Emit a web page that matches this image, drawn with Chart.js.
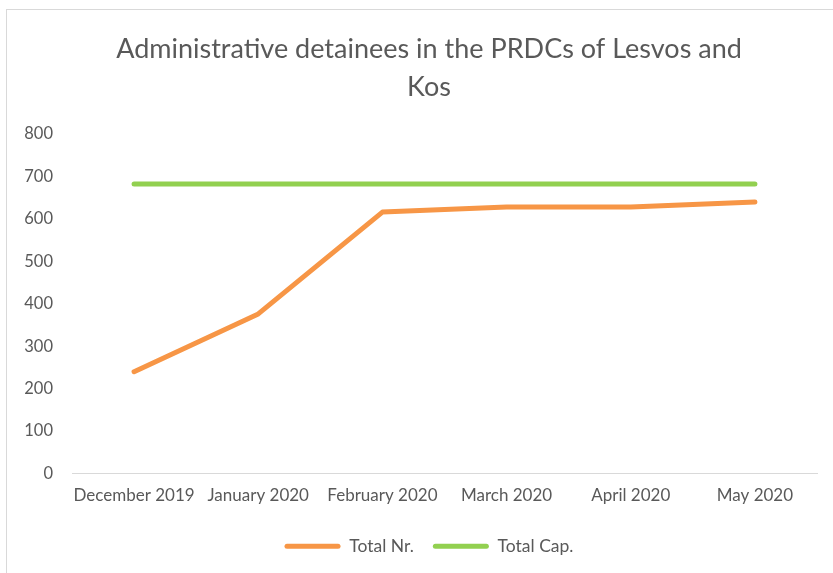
<!DOCTYPE html>
<html>
<head>
<meta charset="utf-8">
<script src="https://cdn.jsdelivr.net/npm/chart.js@4"></script>
<style>
  html, body { margin: 0; padding: 0; background: #fff; overflow: hidden; }
  #frame { position: absolute; left: 6px; top: 9px; width: 900px; height: 600px; border: 1px solid #d9d9d9; }
  #wrap { position: absolute; left: 0; top: 0; width: 858px; height: 573px; }
</style>
</head>
<body>
<div id="frame"></div>
<div id="wrap"><canvas id="chart" width="858" height="573"></canvas></div>
<script>
// data
const months = ["December 2019", "January 2020", "February 2020", "March 2020", "April 2020", "May 2020"];
const totalNr = [240, 376, 616, 628, 628, 640];
const totalCap = [682, 682, 682, 682, 682, 682];
const yTicks = [0, 100, 200, 300, 400, 500, 600, 700, 800];

const grey = "#595959";
const orange = "#F79646";
const green = "#92D050";

const ctx = document.getElementById("chart").getContext("2d");
new Chart(ctx, {
  type: "line",
  data: {
    labels: months,
    datasets: [
      {
        label: "Total Nr.",
        data: totalNr,
        borderColor: orange,
        backgroundColor: orange,
        borderWidth: 5,
        borderCapStyle: "round",
        borderJoinStyle: "round",
        pointRadius: 0,
        tension: 0,
      },
      {
        label: "Total Cap.",
        data: totalCap,
        borderColor: green,
        backgroundColor: green,
        borderWidth: 5,
        borderCapStyle: "round",
        borderJoinStyle: "round",
        pointRadius: 0,
        tension: 0,
      },
    ],
  },
  options: {
    responsive: false,
    animation: false,
    layout: { padding: { left: 0, right: 0, top: 0, bottom: 8 } },
    plugins: {
      title: {
        display: true,
        text: ["Administrative detainees in the PRDCs of Lesvos and", "Kos"],
        color: grey,
        font: { family: "Lato", size: 27, weight: "normal", lineHeight: 1.407 },
        padding: { top: 30, bottom: 28 },
      },
      legend: {
        position: "bottom",
        labels: {
          color: grey,
          font: { family: "Lato", size: 17.5 },
          boxWidth: 56,
          boxHeight: 5,
          useBorderRadius: true,
          borderRadius: 2.5,
          padding: 19,
          generateLabels: (chart) =>
            Chart.defaults.plugins.legend.labels.generateLabels(chart).map((l) => ({ ...l, lineWidth: 0 })),
        },
      },
      tooltip: { enabled: false },
    },
    scales: {
      x: {
        offset: true,
        grid: { display: false, drawTicks: false },
        border: { display: true, color: "#d9d9d9", width: 1 },
        ticks: { color: grey, font: { family: "Lato", size: 17 }, padding: 12, maxRotation: 0, autoSkip: false },
        afterFit: (s) => { s.height = 45; },
      },
      y: {
        min: 0,
        max: 800,
        afterBuildTicks: (s) => { s.ticks = yTicks.map((v) => ({ value: v })); },
        grid: { display: false, drawTicks: false },
        border: { display: false },
        ticks: { color: grey, font: { family: "Lato", size: 16.5 }, padding: 19 },
        afterFit: (s) => { s.width = 72; },
      },
      // empty right-hand axis, only reserves space so the title and legend stay centred like the reference
      yRight: {
        position: "right",
        min: 0,
        max: 800,
        grid: { display: false, drawTicks: false },
        border: { display: false },
        ticks: { display: false },
        afterFit: (s) => { s.width = 41; },
      },
    },
  },
});
</script>
</body>
</html>
